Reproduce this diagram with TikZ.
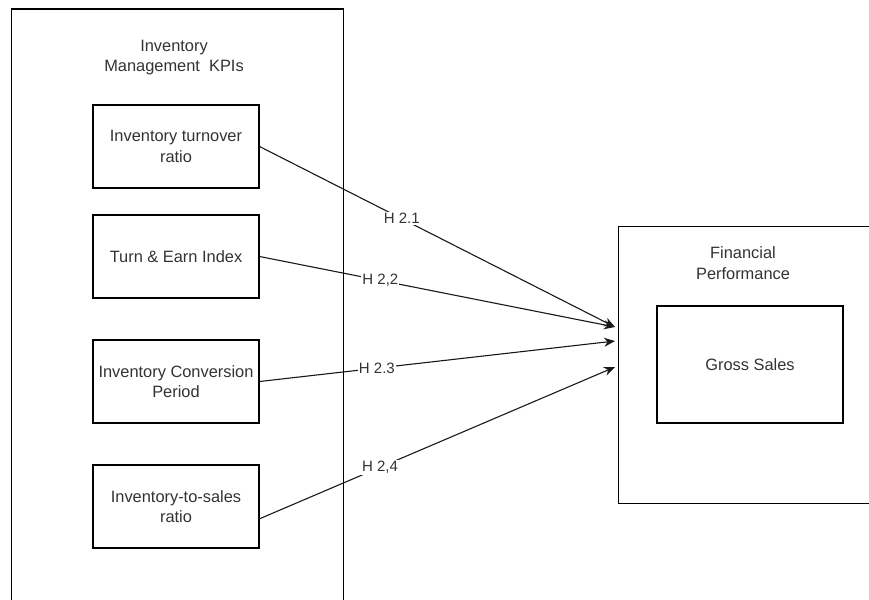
\documentclass[tikz,border=0pt]{standalone}
\usepackage{fontspec}
\setmainfont{Liberation Sans}
\usetikzlibrary{arrows.meta}
\begin{document}
\begin{tikzpicture}[x=1pt,y=-1pt,
  txt/.style={font=\fontsize{16.4}{20.5}\selectfont, text=black!80, align=center},
  kpibox/.style={draw=black, line width=1.1pt, minimum width=166pt, minimum height=83pt, inner sep=0pt, txt},
  outerbox/.style={draw=black, line width=1.1pt},
  arr/.style={draw=black!90, line width=1.1pt, -{Stealth[length=11pt,width=9pt]}},
  lbl/.style={fill=white, inner sep=1pt, font=\fontsize{15}{18}\selectfont, text=black!80}]
\clip (0,0) rectangle (869,599);
\fill[white] (0,0) rectangle (869,599);
% outer containers
\node[outerbox, minimum width=332pt, minimum height=620pt, inner sep=0pt, anchor=north west] (kpi) at (10.5,8.5) {};
\node[txt] (kpititle) at (174,57.5) {Inventory\\Management\ \ KPIs};
\node[outerbox, minimum width=280pt, minimum height=277pt, inner sep=0pt, anchor=north west] (fp) at (618,226) {};
\node[txt] (fptitle) at (743,263) {Financial\\Performance};
\node[kpibox] (gs) at (750,364.5) [minimum width=186pt, minimum height=117pt] {Gross Sales};
% KPI boxes
\node[kpibox] (b1) at (176,146.5) {Inventory turnover\\ratio};
\node[kpibox] (b2) at (176,256.5) {Turn \& Earn Index};
\node[kpibox] (b3) at (176,381.5) {Inventory Conversion\\Period};
\node[kpibox] (b4) at (176,506.5) {Inventory-to-sales\\ratio};
% endpoints
\coordinate (s4) at (259,519);
\coordinate (t1) at (615,327);
\coordinate (t2) at (615,327);
\coordinate (t3) at (615,341);
\coordinate (t4) at (615,367);
\draw[arr] (b1.east) -- node[lbl, pos=0.40] {H 2.1} (t1);
\draw[arr] (b2.east) -- node[lbl, pos=0.34] {H 2,2} (t2);
\draw[arr] (b3.east) -- node[lbl, pos=0.33] {H 2.3} (t3);
\draw[arr] (s4) -- node[lbl, pos=0.34] {H 2,4} (t4);
\end{tikzpicture}
\end{document}
